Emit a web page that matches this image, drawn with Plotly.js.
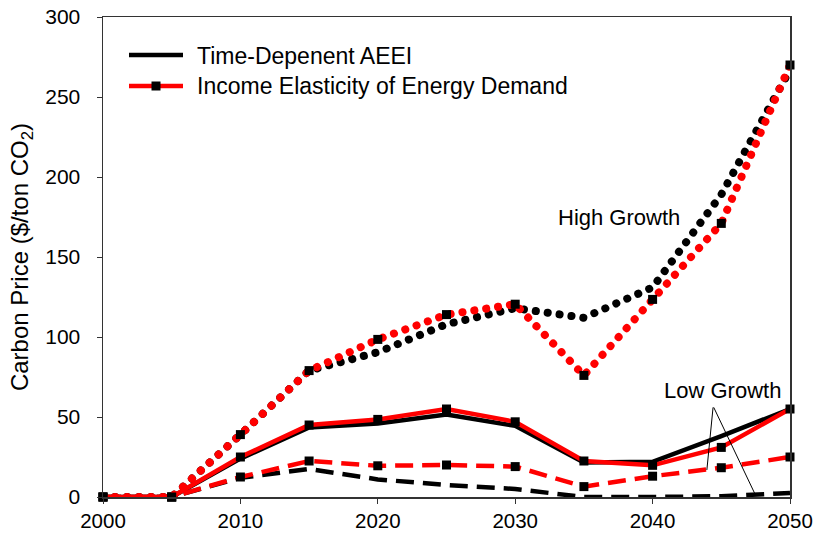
<!DOCTYPE html>
<html><head><meta charset="utf-8">
<script src="https://cdn.plot.ly/plotly-3.0.1.min.js"></script>
<style>html,body{margin:0;padding:0;background:#fff}#chart{width:816px;height:533px}</style>
</head><body><div id="chart"></div>
<script>
// ---- data ----
const years = [2000, 2005, 2010, 2015, 2020, 2025, 2030, 2035, 2040, 2045, 2050];
// High growth scenario (dotted)
const aeeiHigh = [0, 0, 39, 79, 90.5, 108, 118, 112, 131, 189, 267];
const ieedHigh = [0, 0, 39, 79, 98.5, 114, 120.5, 76, 123.5, 171, 270];
// Middle scenario (solid)
const aeeiMid = [0, 0, 24, 43.5, 46, 51.5, 44.5, 21.5, 22, 38, 55];
const ieedMid = [0, 0, 25, 45, 48.5, 55, 47, 22.5, 19.8, 31, 55];
// Low growth scenario (dashed)
const aeeiLow = [0, 0, 12, 17.5, 11, 7.5, 5, 0, 0, 0.5, 2.5];
const ieedLow = [0, 0, 12.5, 22.5, 19.5, 20, 19, 6.5, 13, 18.3, 25];

const legendNames = ['Time-Depenent AEEI', 'Income Elasticity of Energy Demand'];
const yTickVals = [0, 50, 100, 150, 200, 250, 300];
const xTickVals = [2000, 2010, 2020, 2030, 2040, 2050];

// ---- styles ----
const BLACK = '#000000', RED = '#ff0000';
const DOT = '0.1px,11.9px', DASH = '18px,9px';
const FONT = '"Liberation Sans", Arial, Helvetica, sans-serif';

function tr(y, color, dash, width, markers) {
  const t = {x: years, y: y, type: 'scatter', mode: markers ? 'lines+markers' : 'lines',
    line: {color: color, dash: dash, width: width}, showlegend: false, cliponaxis: false,
    hoverinfo: 'skip'};
  if (markers) t.marker = {symbol: 'square', size: 9, color: BLACK};
  return t;
}

const data = [
  tr(aeeiLow, BLACK, DASH, 4.5, false),
  tr(aeeiMid, BLACK, 'solid', 4.5, false),
  tr(aeeiHigh, BLACK, DOT, 8, false),
  tr(ieedLow, RED, DASH, 4.5, true),
  tr(ieedMid, RED, 'solid', 4.5, true),
  tr(ieedHigh, RED, DOT, 8, true)
];

// margins / pixel helpers for the hand-drawn legend
const W = 816, H = 533, ML = 103, MR = 26, MT = 17, MB = 36;
const PW = W - ML - MR, PH = H - MT - MB;
const fx = px => (px - ML) / PW;
const fy = py => 1 - (py - MT) / PH;

const shapes = [
  {type: 'line', xref: 'paper', yref: 'paper', x0: fx(129), x1: fx(183), y0: fy(55), y1: fy(55),
   line: {color: BLACK, width: 4.5}},
  {type: 'line', xref: 'paper', yref: 'paper', x0: fx(129), x1: fx(183), y0: fy(86), y1: fy(86),
   line: {color: RED, width: 4.5}},
  {type: 'rect', xref: 'paper', yref: 'paper', x0: fx(151.5), x1: fx(160.5), y0: fy(81.5), y1: fy(90.5),
   fillcolor: BLACK, line: {width: 0}},
  // pointer lines for "Low Growth"
  {type: 'line', xref: 'x', yref: 'y', x0: 2044.4, y0: 56, x1: 2043.95, y1: 16.9, line: {color: BLACK, width: 1}},
  {type: 'line', xref: 'x', yref: 'y', x0: 2044.45, y0: 56, x1: 2047.45, y1: 1.9, line: {color: BLACK, width: 1}}
];

const annotations = [
  {xref: 'paper', yref: 'paper', x: fx(195), y: fy(56), xanchor: 'left', yanchor: 'middle', showarrow: false,
   text: legendNames[0], font: {size: 23, color: BLACK, family: FONT}},
  {xref: 'paper', yref: 'paper', x: fx(195), y: fy(86), xanchor: 'left', yanchor: 'middle', showarrow: false,
   text: legendNames[1], font: {size: 23, color: BLACK, family: FONT}},
  {xref: 'x', yref: 'y', x: 2037.55, y: 175, showarrow: false, text: 'High Growth',
   font: {size: 22, color: BLACK, family: FONT}},
  {xref: 'x', yref: 'y', x: 2045.1, y: 66.5, showarrow: false, text: 'Low Growth',
   font: {size: 22, color: BLACK, family: FONT}}
];

const layout = {
  width: W, height: H,
  margin: {l: ML, r: MR, t: MT, b: MB, pad: 0},
  paper_bgcolor: '#fff', plot_bgcolor: '#fff',
  font: {family: FONT, size: 21, color: BLACK},
  showlegend: false,
  xaxis: {range: [2000, 2050], tickvals: xTickVals, ticks: 'outside', ticklen: 5, tickwidth: 1,
    tickcolor: '#333', showline: true, linecolor: '#333', linewidth: 1.5, mirror: true,
    showgrid: false, zeroline: false, ticklabelstandoff: 0, tickfont: {size: 20.5}},
  yaxis: {range: [0, 300], tickvals: yTickVals, ticks: 'outside', ticklen: 5, tickwidth: 1,
    tickcolor: '#333', showline: true, linecolor: '#333', linewidth: 1.5, mirror: true,
    showgrid: false, zeroline: false, ticklabelstandoff: 12, tickfont: {size: 21},
    title: {text: 'Carbon Price ($/ton CO<sub>2</sub>)', font: {size: 24}, standoff: 10}},
  shapes: shapes,
  annotations: annotations
};

Plotly.newPlot('chart', data, layout, {staticPlot: true}).then(function () {
  document.querySelectorAll('.js-line').forEach(function (p) {
    const d = p.style.strokeDasharray || '';
    if (d.indexOf('0.1') === 0) p.style.strokeLinecap = 'round';
  });
});
</script>
</body></html>
